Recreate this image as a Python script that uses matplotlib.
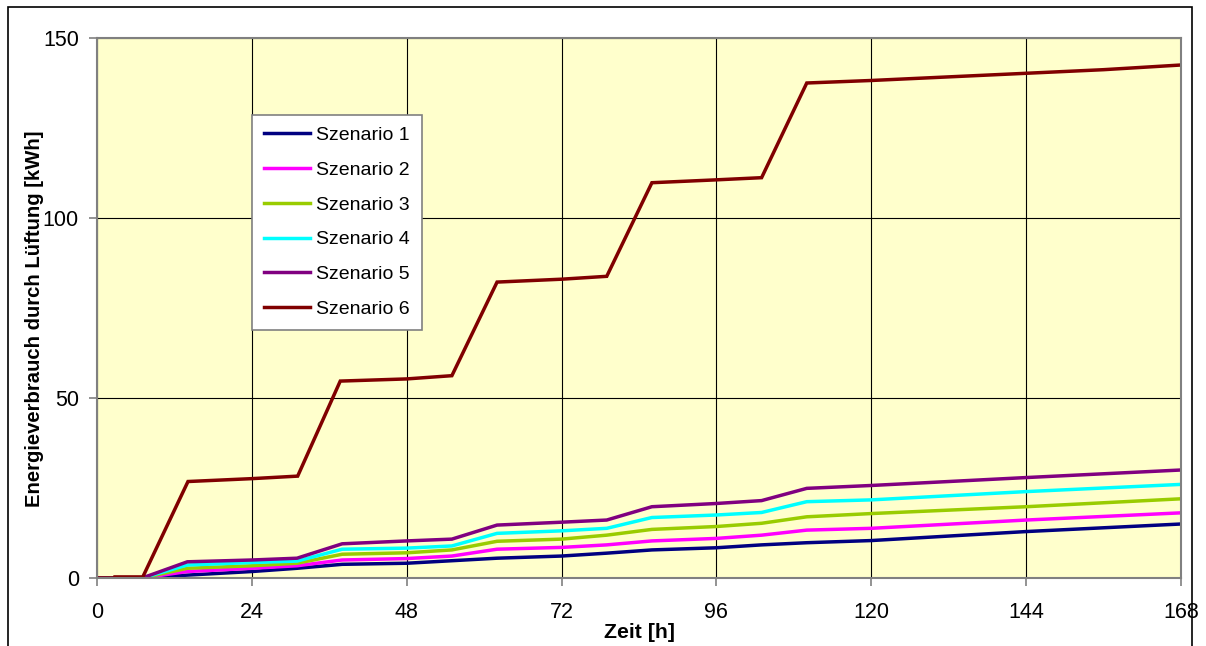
import numpy as np
import matplotlib
matplotlib.use("Agg")
import matplotlib.pyplot as plt
from matplotlib.patches import Rectangle

plt.rcParams['font.family'] = ['Liberation Sans', 'DejaVu Sans']

# ---------------- Daten -----------------------------
HOURS = [0, 7, 14, 24, 31, 38, 48, 55, 62, 72, 79, 86, 96, 103, 110, 120, 144, 168]

S1 = [0, 0, 0.8, 1.8, 2.7, 3.8, 4.1, 4.8, 5.5, 6.1, 6.9, 7.8, 8.4, 9.2, 9.8, 10.4, 12.9, 15.0]
S2 = [0, 0, 1.8, 2.7, 3.4, 5.0, 5.4, 6.1, 8.0, 8.5, 9.2, 10.3, 11.0, 11.9, 13.3, 13.8, 16.1, 18.1]
S3 = [0, 0, 2.7, 3.4, 4.1, 6.6, 7.0, 7.8, 10.2, 10.8, 11.9, 13.5, 14.3, 15.2, 17.0, 17.9, 19.8, 22.0]
S4 = [0, 0, 3.6, 4.3, 4.7, 8.0, 8.3, 8.9, 12.4, 13.1, 13.8, 16.8, 17.5, 18.2, 21.2, 21.7, 24.0, 26.0]
S5 = [0, 0, 4.5, 5.0, 5.5, 9.5, 10.3, 10.8, 14.7, 15.5, 16.1, 19.8, 20.7, 21.5, 24.9, 25.7, 27.9, 30.0]

HOURS_6 = [0, 2.8, 2.8, 7.1, 14.1, 24, 31.1, 37.7, 48, 55, 62, 72, 79, 86, 96, 103, 110,
           120, 132, 144, 156, 168]
S6 = [0, 0, 0.3, 0.3, 26.8, 27.6, 28.3, 54.7, 55.3, 56.2, 82.2, 83.0, 83.8, 109.8, 110.6,
      111.2, 137.5, 138.2, 139.2, 140.2, 141.2, 142.5]

LABELS = ['Szenario 1', 'Szenario 2', 'Szenario 3', 'Szenario 4', 'Szenario 5', 'Szenario 6']
COLORS = ['#000080', '#FF00FF', '#99CC00', '#00FFFF', '#800080', '#800000']

X_TICKS = [0, 24, 48, 72, 96, 120, 144, 168]
Y_TICKS = [0, 50, 100, 150]

# ---------------- Diagramm -----------------
fig = plt.figure(figsize=(12.06, 6.46), dpi=100)
ax = fig.add_axes([97 / 1206, 1 - 578 / 646, 1084 / 1206, 540 / 646])
ax.set_facecolor('#FFFFCC')

series = [(HOURS, S1), (HOURS, S2), (HOURS, S3), (HOURS, S4), (HOURS, S5), (HOURS_6, S6)]
for (xs, ys), lab, col in zip(series, LABELS, COLORS):
    ax.plot(xs, ys, color=col, lw=2.5, label=lab, solid_joinstyle='miter')

ax.set_xlim(0, 168)
ax.set_ylim(0, 150)
ax.set_xticks(X_TICKS)
ax.set_yticks(Y_TICKS)
ax.grid(True, color='black', lw=0.8)
ax.set_axisbelow(True)
for sp in ax.spines.values():
    sp.set_color('#808080')
    sp.set_linewidth(1.5)
ax.tick_params(direction='out', length=6, width=1.2, color='#808080', labelsize=15.5)
ax.tick_params(axis='x', pad=11)
ax.tick_params(axis='y', pad=7)

ax.set_xlabel('Zeit [h]', fontsize=15.3, fontweight='bold', labelpad=0)
ax.set_ylabel('Energieverbrauch durch Lüftung [kWh]', fontsize=14.6, fontweight='bold')
ax.yaxis.set_label_coords(-0.049, 0.481)

leg = ax.legend(loc='upper left', bbox_to_anchor=((252 - 97) / 1084, (578 - 115) / 540),
                fontsize=14, frameon=True, fancybox=False, framealpha=1,
                edgecolor='#808080', borderaxespad=0, handlelength=2.4,
                handletextpad=0.3, labelspacing=0.88, borderpad=0.6)
leg.get_frame().set_linewidth(1.2)

# äußerer Rahmen
fig.patches.append(Rectangle((8 / 1206, -0.02), 1184 / 1206, 1 - 7 / 646 + 0.02,
                             transform=fig.transFigure, fill=False,
                             edgecolor='black', lw=1.2))

fig.savefig('out.png', dpi=100)
